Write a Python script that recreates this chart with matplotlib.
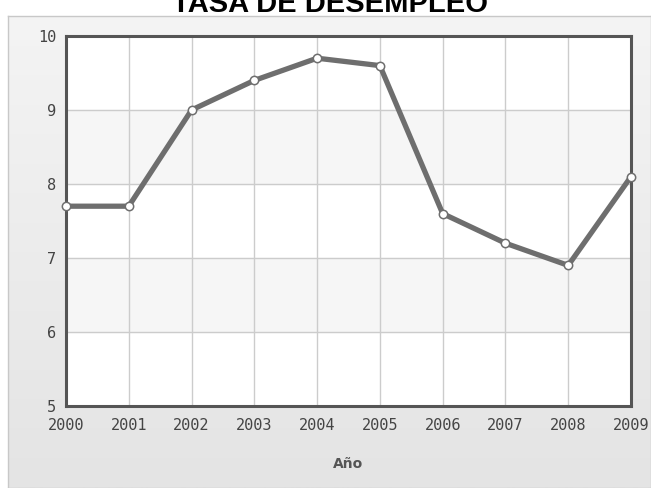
import matplotlib.pyplot as plt
import numpy as np
from matplotlib.colors import LinearSegmentedColormap

# datos
years = [2000, 2001, 2002, 2003, 2004, 2005, 2006, 2007, 2008, 2009]
tasa = [7.7, 7.7, 9.0, 9.4, 9.7, 9.6, 7.6, 7.2, 6.9, 8.1]
y_ticks = [5, 6, 7, 8, 9, 10]

fig = plt.figure(figsize=(6.51, 4.88), dpi=100)
fig.patch.set_facecolor('white')

# panel de fondo con degradado gris
bg = fig.add_axes([8 / 651, 0, 1 - 8 / 651, 1 - 16 / 488], zorder=0)
grad = np.linspace(0, 1, 256).reshape(-1, 1)
bg.imshow(grad, aspect='auto', cmap=LinearSegmentedColormap.from_list('g', ['#f4f4f4', '#e4e4e4']),
          extent=[0, 1, 0, 1], origin='upper')
bg.set_xticks([])
bg.set_yticks([])
for s in bg.spines.values():
    s.set_color('#c8c8c8')
    s.set_linewidth(1)

ax = fig.add_axes([66 / 651, 1 - 406 / 488, (631 - 66) / 651, (406 - 36) / 488], zorder=1)
ax.set_facecolor('white')

# bandas alternas
for lo in [6, 8]:
    ax.axhspan(lo, lo + 1, color='#f6f6f6', zorder=0)

ax.plot(years, tasa, color='#6e6e6e', linewidth=3.8, zorder=3, clip_on=False,
        marker='o', markersize=6, markerfacecolor='white', markeredgecolor='#6e6e6e',
        markeredgewidth=1.1)

ax.set_xlim(2000, 2009)
ax.set_ylim(5, 10)
ax.set_xticks(years)
ax.set_yticks(y_ticks)
ax.grid(True, color='#cccccc', linewidth=1, zorder=1)
ax.set_axisbelow(True)
ax.tick_params(axis='x', length=0, pad=9, labelsize=11, labelcolor='#444444')
ax.tick_params(axis='y', length=0, pad=7, labelsize=11, labelcolor='#444444')
for lbl in ax.get_xticklabels() + ax.get_yticklabels():
    lbl.set_fontfamily('DejaVu Sans Mono')
for s in ax.spines.values():
    s.set_color('#555555')
    s.set_linewidth(2.2)

ax.set_xlabel('Año', fontsize=10, fontweight='bold', color='#555555', labelpad=17)

fig.text(330 / 651, 1 - 12 / 488, 'TASA DE DESEMPLEO', ha='center', va='baseline',
         fontsize=21, fontweight='bold', fontfamily='Liberation Sans', color='black')

plt.savefig('out.png', dpi=100)
